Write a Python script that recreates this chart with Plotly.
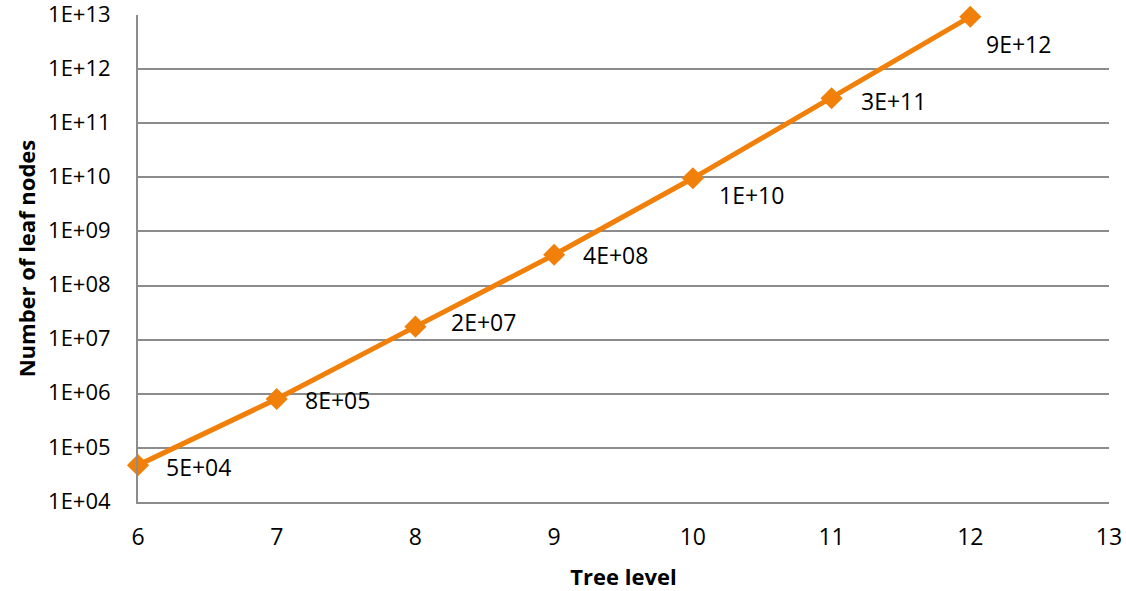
import math
import plotly.graph_objects as go

tree_level = [6, 7, 8, 9, 10, 11, 12]
leaf_nodes = [4.8e4, 8.0e5, 1.74e7, 3.7e8, 9.6e9, 2.9e11, 9.3e12]
y_tick_vals = [1e4, 1e5, 1e6, 1e7, 1e8, 1e9, 1e10, 1e11, 1e12, 1e13]
y_tick_text = ["1E+04", "1E+05", "1E+06", "1E+07", "1E+08", "1E+09",
               "1E+10", "1E+11", "1E+12", "1E+13"]
x_tick_vals = [6, 7, 8, 9, 10, 11, 12, 13]
point_labels = ["5E+04", "8E+05", "2E+07", "4E+08", "1E+10", "3E+11", "9E+12"]

# pixel offsets of each data label from its marker (layout only)
label_dx = [26, 26, 34, 27, 24, 27, 14]
label_dy = [2, 1, -5, 0, 17, 3, 27]

ORANGE = "#F0800A"
GRID = "#8C8C8C"
FONT = "Open Sans"
FS = 23

fig = go.Figure()
fig.add_trace(go.Scatter(
    x=tree_level, y=leaf_nodes, mode="lines+markers",
    line=dict(color=ORANGE, width=5),
    marker=dict(symbol="diamond", size=17, color=ORANGE),
    showlegend=False, hoverinfo="skip", cliponaxis=False,
))

for x, y, t, dx, dy in zip(tree_level, leaf_nodes, point_labels, label_dx, label_dy):
    # annotations on a log axis are placed in log10 units
    fig.add_annotation(x=x, y=math.log10(y), xref="x", yref="y",
                       text=t, showarrow=False, xanchor="left", yanchor="middle",
                       xshift=dx, yshift=-dy,
                       font=dict(family=FONT, size=FS, color="#000000"))

fig.update_layout(
    width=1126, height=591,
    margin=dict(l=138, r=17, t=15, b=89, autoexpand=False),
    paper_bgcolor="white", plot_bgcolor="white",
    font=dict(family=FONT, size=FS, color="#000000"),
    xaxis=dict(
        range=[6, 13], tickvals=x_tick_vals, showgrid=False, zeroline=False,
        showline=True, linecolor=GRID, linewidth=2, ticks="",
        ticklabelstandoff=13, automargin=False, ticklabeloverflow="allow",
        tickfont=dict(family=FONT, size=FS),
        title=dict(text="<b>Tree level</b>", standoff=24,
                   font=dict(family=FONT, size=22)),
    ),
    yaxis=dict(
        type="log", range=[4, 13], tickvals=y_tick_vals, ticktext=y_tick_text,
        showgrid=True, gridcolor=GRID, gridwidth=2, zeroline=False,
        showline=True, linecolor=GRID, linewidth=2, ticks="",
        ticklabelstandoff=21, ticklabelshift=-1,
        automargin=False, ticklabeloverflow="allow",
        tickfont=dict(family=FONT, size=22),
        title=dict(text="<b>Number of leaf nodes</b>", standoff=6,
                   font=dict(family=FONT, size=22)),
    ),
)

fig.write_html("out.html", config={"displayModeBar": False},
               post_script="document.body.style.margin='0px';document.body.style.overflow='hidden';")
